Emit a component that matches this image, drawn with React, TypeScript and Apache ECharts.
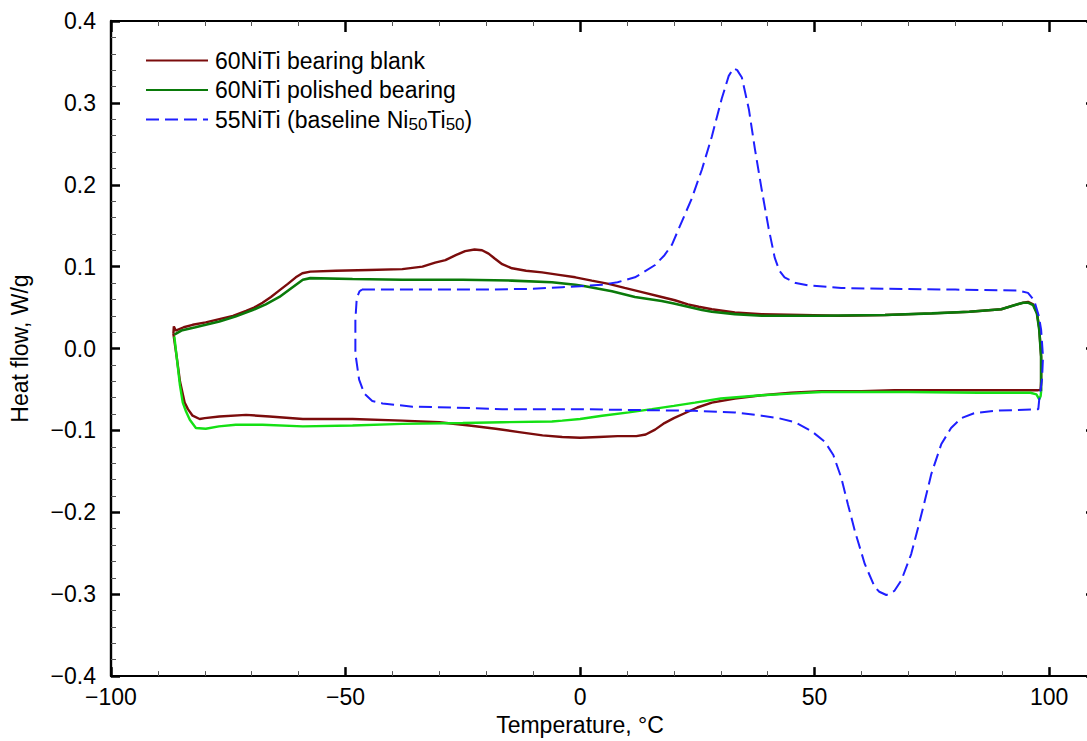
import React, { useEffect, useRef } from 'react';
import * as echarts from 'echarts';

const seriesNames = ['60NiTi bearing blank', '60NiTi polished bearing', '55NiTi (baseline Ni50Ti50)'];
const xTickLabels = ['\u2212100', '\u221250', '0', '50', '100'];

// 60NiTi bearing blank: heating (upper) then cooling (lower) loop
const blankLoop: [number, number][] = [
  [-86.7, 0.018], [-86.6, 0.027], [-86.2, 0.022], [-84.5, 0.026], [-82.6, 0.029], [-79.8, 0.032],
  [-76.9, 0.036], [-74, 0.040], [-71.2, 0.046], [-69.5, 0.050], [-67.7, 0.056], [-65.9, 0.063],
  [-64.1, 0.071], [-62.3, 0.079], [-60.6, 0.087], [-59.2, 0.092], [-57.5, 0.094], [-52.1, 0.095],
  [-45, 0.096], [-37.9, 0.097], [-33.6, 0.100], [-30.9, 0.105], [-28.7, 0.108], [-26.5, 0.114],
  [-24.5, 0.119], [-22.5, 0.121], [-20.9, 0.120], [-19.5, 0.116], [-18.2, 0.110], [-16.6, 0.103],
  [-14.5, 0.098], [-11.5, 0.095], [-8.1, 0.093], [-4.5, 0.090], [-1, 0.087], [2.5, 0.083],
  [6.1, 0.079], [9.5, 0.074], [13.2, 0.069], [17.4, 0.063], [20.2, 0.059], [23, 0.054],
  [25.3, 0.051], [28.1, 0.048], [33, 0.044], [38.7, 0.042], [47.2, 0.041], [55, 0.040],
  [65, 0.041], [75, 0.043], [83, 0.045], [89.8, 0.048], [92.6, 0.053], [94.5, 0.056],
  [95.5, 0.057], [96.6, 0.054], [97.4, 0.044], [97.9, 0.025], [98.3, -0.010], [98.3, -0.040],
  [98.2, -0.050], [97.5, -0.051], [90, -0.051], [80, -0.051], [67, -0.051], [60, -0.052],
  [51.5, -0.052], [45, -0.054], [38.7, -0.057], [33, -0.061], [28.1, -0.066], [25, -0.072],
  [22.3, -0.079], [20, -0.085], [18, -0.091], [16, -0.099], [14, -0.105], [12, -0.107],
  [8, -0.107], [4, -0.108], [0, -0.109], [-3.8, -0.108], [-8, -0.106], [-13, -0.102],
  [-18, -0.098], [-23.6, -0.094], [-30, -0.090], [-37.9, -0.088], [-48.5, -0.086], [-59.1, -0.086],
  [-66.2, -0.083], [-71.2, -0.081], [-76.9, -0.083], [-80, -0.085], [-81.1, -0.086], [-82.6, -0.082],
  [-83.6, -0.074], [-84.3, -0.066], [-85.3, -0.040], [-86, -0.010], [-86.5, 0.010], [-86.7, 0.018],
];

// 60NiTi polished bearing, upper branch (dark green)
const polishedUpper: [number, number][] = [
  [-86.5, 0.017], [-85, 0.022], [-82, 0.026], [-79.8, 0.029], [-76.9, 0.033], [-73.5, 0.039],
  [-69.8, 0.047], [-67, 0.054], [-64.1, 0.063], [-61.5, 0.074], [-59.1, 0.084], [-57.5, 0.086],
  [-48.5, 0.085], [-37.9, 0.084], [-25, 0.084], [-14.5, 0.083], [-6, 0.081], [-1, 0.078],
  [1.1, 0.076], [6.8, 0.070], [11.7, 0.063], [17.4, 0.058], [20, 0.055], [23, 0.051],
  [26, 0.047], [28.1, 0.045], [33, 0.042], [38.7, 0.040], [51.5, 0.040], [65, 0.041],
  [75, 0.043], [83, 0.045], [89.8, 0.048], [92.6, 0.053], [94.5, 0.056], [95.5, 0.056],
  [96.6, 0.053], [97.4, 0.043], [97.9, 0.023], [98.3, -0.010], [98.3, -0.040], [98.3, -0.052],
];

// 60NiTi polished bearing, lower branch (bright green)
const polishedLower: [number, number][] = [
  [98.3, -0.052], [98.2, -0.058], [97.9, -0.062], [97.3, -0.056], [96, -0.054], [85, -0.054],
  [70, -0.053], [60, -0.053], [51.5, -0.053], [45, -0.055], [38.7, -0.057], [30, -0.061],
  [24.5, -0.066], [20, -0.070], [15.3, -0.074], [10.4, -0.078], [4.7, -0.082], [0, -0.086],
  [-3.8, -0.088], [-6, -0.089], [-16.6, -0.090], [-25, -0.091], [-37.9, -0.092], [-48.5, -0.094],
  [-59.1, -0.095], [-67.7, -0.093], [-73.4, -0.093], [-77, -0.095], [-79.8, -0.098], [-81.9, -0.097],
  [-83.2, -0.087], [-84, -0.077], [-84.7, -0.066], [-85.3, -0.045], [-85.7, -0.025], [-86.2, 0.0],
  [-86.5, 0.015],
];

// 55NiTi baseline loop (blue dashed)
const baselineLoop: [number, number][] = [
  [-46.5, 0.072], [-45, 0.072], [-40, 0.072], [-30, 0.072], [-20, 0.072], [-10, 0.073],
  [-3.8, 0.075], [0, 0.076], [4.7, 0.078], [8, 0.081], [11.7, 0.087], [13.2, 0.092],
  [16, 0.102], [18, 0.114], [19.6, 0.127], [21.7, 0.155], [23.8, 0.183], [26, 0.219],
  [28.1, 0.259], [30.2, 0.305], [31.7, 0.333], [32.7, 0.342], [33.5, 0.340], [34.5, 0.331],
  [36, 0.292], [37.3, 0.243], [38.7, 0.195], [40.2, 0.147], [41.5, 0.111], [42.5, 0.095],
  [43.6, 0.087], [46, 0.080], [48.7, 0.077], [55.7, 0.074], [65, 0.073], [80, 0.072],
  [93.4, 0.071], [95.5, 0.068], [96.8, 0.059], [97.8, 0.040], [98.3, 0.023], [98.7, -0.010],
  [98.5, -0.037], [97.9, -0.062], [97.7, -0.074], [93, -0.075], [88.3, -0.076], [84, -0.079],
  [81.3, -0.085], [79.1, -0.097], [77, -0.117], [74.9, -0.153], [73.5, -0.186], [72.1, -0.218],
  [70.6, -0.251], [68.5, -0.283], [67, -0.296], [65.3, -0.301], [63.8, -0.297], [62.8, -0.291],
  [60.7, -0.263], [58.6, -0.223], [57.1, -0.190], [55.7, -0.158], [54, -0.130], [52.2, -0.114],
  [49.4, -0.101], [45.8, -0.090], [42.3, -0.085], [38.7, -0.082], [33, -0.078], [24.5, -0.076],
  [10.4, -0.075], [0, -0.074], [-16.6, -0.074], [-27.2, -0.072], [-35.7, -0.071], [-39, -0.069],
  [-42.1, -0.067], [-44.3, -0.064], [-46, -0.055], [-47.1, -0.038], [-47.9, -0.006], [-47.9, 0.035],
  [-47.6, 0.062], [-47, 0.070], [-46.5, 0.072],
];

const FONT = '"Liberation Sans", Arial, Helvetica, sans-serif';
const FS = 23;

function fmtY(v: number) {
  if (Math.abs(v) < 1e-9) return '0.0';
  const s = Math.abs(v).toFixed(1);
  return v < 0 ? '\u2212' + s : s;
}
function fmtX(v: number) {
  const idx = [-100, -50, 0, 50, 100].indexOf(Math.round(v));
  return idx >= 0 ? xTickLabels[idx] : '';
}

export default function App() {
  const ref = useRef<HTMLDivElement>(null);
  useEffect(() => {
    const chart = echarts.init(ref.current!, null, { renderer: 'svg' });
    const majorTick = { show: true, inside: true, length: 9, lineStyle: { color: '#000', width: 2.5 } };
    const minorTick = { show: true, splitNumber: 5, length: 5, lineStyle: { color: '#555', width: 1 } };
    chart.setOption({
      animation: false,
      backgroundColor: '#fff',
      textStyle: { fontFamily: FONT, color: '#000' },
      grid: { left: 109, right: 4, top: 21, bottom: 60, containLabel: false },
      legend: {
        data: seriesNames,
        orient: 'vertical',
        left: 140,
        top: 44,
        itemWidth: 62,
        itemHeight: 14,
        itemGap: 4.5,
        itemStyle: { opacity: 0 },
        textStyle: {
          fontFamily: FONT,
          padding: [0, 0, 0, 2],
          rich: {
            t: { fontFamily: FONT, fontSize: FS, color: '#000' },
            s: { fontFamily: FONT, fontSize: 17, padding: [10, 0, 0, 0], color: '#000' },
          },
        },
        formatter: (name: string) =>
          name.startsWith('55NiTi')
            ? '{t|55NiTi (baseline Ni}{s|50}{t|Ti}{s|50}{t|)}'
            : '{t|' + name + '}{s| }',
      },
      xAxis: [
        {
          type: 'value', position: 'bottom', min: -100, max: 110, interval: 50,
          axisLine: { onZero: false, lineStyle: { color: '#000', width: 2.2 } },
          axisTick: majorTick, minorTick,
          splitLine: { show: false }, minorSplitLine: { show: false },
          axisLabel: { margin: 9, fontSize: FS, color: '#000', fontFamily: FONT, formatter: fmtX },
          name: 'Temperature, \u00B0C', nameLocation: 'middle', nameGap: 36,
          nameTextStyle: { fontSize: FS, color: '#000', fontFamily: FONT, padding: [0, 47, 0, 0] },
        },
        {
          type: 'value', position: 'top', min: -100, max: 110, interval: 50,
          axisLine: { onZero: false, lineStyle: { color: '#000', width: 1.8 } },
          axisTick: { ...majorTick, length: 11 }, minorTick,
          splitLine: { show: false }, axisLabel: { show: false },
        },
      ],
      yAxis: [
        {
          type: 'value', position: 'left', min: -0.4, max: 0.4, interval: 0.1,
          axisLine: { onZero: false, lineStyle: { color: '#000', width: 2.4 } },
          axisTick: majorTick, minorTick,
          splitLine: { show: false }, minorSplitLine: { show: false },
          axisLabel: { margin: 15, fontSize: FS, color: '#000', fontFamily: FONT, formatter: fmtY },
          name: 'Heat flow, W/g', nameLocation: 'middle', nameGap: 80,
          nameTextStyle: { fontSize: FS, color: '#000', fontFamily: FONT },
        },
        {
          type: 'value', position: 'right', min: -0.4, max: 0.4, interval: 0.1,
          axisLine: { onZero: false, lineStyle: { color: '#000', width: 1.6 } },
          axisTick: { ...majorTick, length: 10 }, minorTick,
          splitLine: { show: false }, axisLabel: { show: false },
        },
      ],
      series: [
        {
          name: seriesNames[0], type: 'line', data: blankLoop, showSymbol: false, symbol: 'none',
          lineStyle: { color: '#7b0c0c', width: 2.4 }, itemStyle: { color: '#7b0c0c' }, z: 2,
        },
        {
          name: seriesNames[1], type: 'line', data: polishedUpper, showSymbol: false, symbol: 'none',
          lineStyle: { color: '#0a7a0a', width: 2.6 }, itemStyle: { color: '#0a7a0a' }, z: 3,
        },
        {
          name: 'polished lower', type: 'line', data: polishedLower, showSymbol: false, symbol: 'none',
          lineStyle: { color: '#14e014', width: 2.4 }, itemStyle: { color: '#14e014' }, z: 3,
        },
        {
          name: seriesNames[2], type: 'line', data: baselineLoop, showSymbol: false, symbol: 'none',
          lineStyle: { color: '#1f1fff', width: 2, type: [13, 6] }, itemStyle: { color: '#1f1fff' }, z: 4,
        },
      ],
    });
    return () => chart.dispose();
  }, []);
  return (
    <div style={{ position: 'fixed', left: 0, top: 0, width: 1087, height: 741, overflow: 'hidden', background: '#fff' }}>
      <div ref={ref} style={{ width: 1100, height: 741 }} />
    </div>
  );
}
